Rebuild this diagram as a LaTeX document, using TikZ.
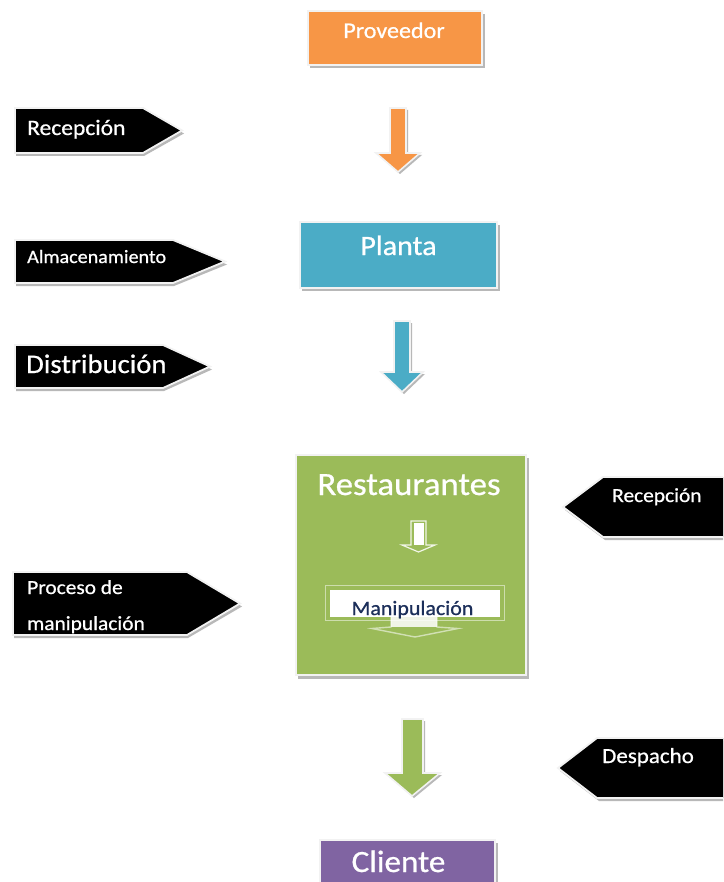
\documentclass[tikz,border=0pt]{standalone}
\usepackage{fontspec}
\setmainfont[FakeStretch=1.07, FakeBold=0.7]{Carlito}
\definecolor{cOrange}{HTML}{F79646}
\definecolor{cBlue}{HTML}{4BACC6}
\definecolor{cGreen}{HTML}{9BBB59}
\definecolor{cPurple}{HTML}{8064A2}
\definecolor{cNavy}{HTML}{1C2F5A}
\definecolor{cEdge}{HTML}{F2F2F2}
\definecolor{cShadow}{HTML}{B8B8B8}
\begin{document}
\begin{tikzpicture}[x=1pt,y=-1pt,
  shade2/.style={fill=cShadow},
  boxe/.style={draw=cEdge, line width=1.6pt},
  tagc/.style={fill=black, draw=cEdge, line width=1.8pt, line join=miter},
  arr/.style={draw=cEdge, line width=1.6pt, line join=miter},
  lbl/.style={text=white, inner sep=0pt, anchor=base west},
  ctr/.style={text=white, inner sep=0pt, anchor=base},
  fs/.style={font=\fontsize{#1}{#1}\selectfont}]
\clip (0,0) rectangle (723,882);
\fill[white] (0,0) rectangle (723,882);

% ---------- Proveedor ----------
\fill[shade2] (310,14) rectangle (485,68);
\path[boxe, fill=cOrange] (308,11) rectangle (482,65);
\node[ctr, fs=22.5] (prov) at (394,38) {Proveedor};

% orange arrow
\fill[shade2, xshift=2pt, yshift=-2pt] (390,108)--(406,108)--(406,153)--(420,153)--(398,172)--(376,153)--(390,153)--cycle;
\path[arr, fill=cOrange] (390,108)--(406,108)--(406,153)--(420,153)--(398,172)--(376,153)--(390,153)--cycle;

% ---------- Planta ----------
\fill[shade2] (302,225) rectangle (500,291);
\path[boxe, fill=cBlue] (300,222) rectangle (497,288);
\node[ctr, fs=28] (planta) at (398.5,255) {Planta};

% blue arrow
\fill[shade2, xshift=2pt, yshift=-2pt] (394,321)--(410,321)--(410,372)--(423,372)--(402,392)--(381,372)--(394,372)--cycle;
\path[arr, fill=cBlue] (394,321)--(410,321)--(410,372)--(423,372)--(402,392)--(381,372)--(394,372)--cycle;

% ---------- Restaurantes ----------
\fill[shade2] (298,458) rectangle (529,679);
\path[boxe, fill=cGreen] (296,455) rectangle (526,675);
\node[ctr, fs=32.5] (rest) at (409,495) {Restaurantes};

% small inner arrow
\path[arr, draw=white!85!cGreen, line width=1.2pt, fill=cGreen] (411,521)--(426,521)--(426,545)--(435,545)--(418.5,552)--(402,545)--(411,545)--cycle;
\fill[white] (413.5,523) rectangle (423.5,545);

% Manipulacion callout
\draw[white, opacity=0.5, line width=1pt] (325,585) rectangle (504,620);
\fill[white] (330,590) rectangle (500,617);
\fill[white, opacity=0.85] (391,617) rectangle (437,627);
\draw[white, opacity=0.55, line width=1.4pt] (391,617)--(391,627)--(372,628.5)--(415,637)--(458,628.5)--(437,627)--(437,617);
\node[inner sep=0pt, anchor=base, text=cNavy, fs=20.5] (manip) at (412.5,615) {Manipulación};

% green arrow
\fill[shade2, xshift=2pt, yshift=-2pt] (402,719)--(423,719)--(423,773)--(440,773)--(412,796)--(385,773)--(402,773)--cycle;
\path[arr, fill=cGreen] (402,719)--(423,719)--(423,773)--(440,773)--(412,796)--(385,773)--(402,773)--cycle;

% ---------- Cliente ----------
\fill[shade2] (322,843) rectangle (498,890);
\path[boxe, fill=cPurple] (320,840) rectangle (495,890);
\node[ctr, fs=31] (cli) at (398.5,872) {Cliente};

% ---------- black tags (left) ----------
\fill[shade2] (16,111)--(144,111)--(184,133.5)--(144,156)--(16,156)--cycle;
\path[tagc] (15,108)--(143,108)--(182,130.5)--(143,153)--(15,153)--cycle;
\node[lbl, fs=22] (t1) at (27,135) {Recepción};

\fill[shade2] (16,243)--(174,243)--(227,264.5)--(174,286)--(16,286)--cycle;
\path[tagc] (15,240)--(173,240)--(225,261.5)--(173,283)--(15,283)--cycle;
\node[lbl, fs=18.8] (t2) at (27,263) {Almacenamiento};

\fill[shade2] (16,348)--(164,348)--(212,369.5)--(164,391)--(16,391)--cycle;
\path[tagc] (15,345)--(163,345)--(210,366.5)--(163,388)--(15,388)--cycle;
\node[lbl, fs=26.8] (t3) at (26,373) {Distribución};

\begin{scope}
\fill[shade2] (14,575)--(188,575)--(242,606.5)--(188,638)--(14,638)--cycle;
\path[tagc] (13,572)--(187,572)--(240,603.5)--(187,635)--(13,635)--cycle;
\clip (13,572)--(187,572)--(240,603.5)--(187,635)--(13,635)--cycle;
\node[lbl, fs=20] (t4a) at (27,594) {Proceso de};
\node[lbl, fs=20] (t4b) at (27,630) {manipulación};
\end{scope}

% ---------- black tags (right) ----------
\fill[shade2] (565,510)--(605,480)--(730,480)--(730,540)--(605,540)--cycle;
\path[tagc] (563,507)--(603,477)--(730,477)--(730,537)--(603,537)--cycle;
\node[lbl, fs=20] (t5) at (612,502) {Recepción};

\fill[shade2] (560,771)--(599,741)--(730,741)--(730,801)--(599,801)--cycle;
\path[tagc] (558,768)--(597,738)--(730,738)--(730,798)--(597,798)--cycle;
\node[lbl, fs=21.5] (t6) at (602,763) {Despacho};
\end{tikzpicture}
\end{document}
